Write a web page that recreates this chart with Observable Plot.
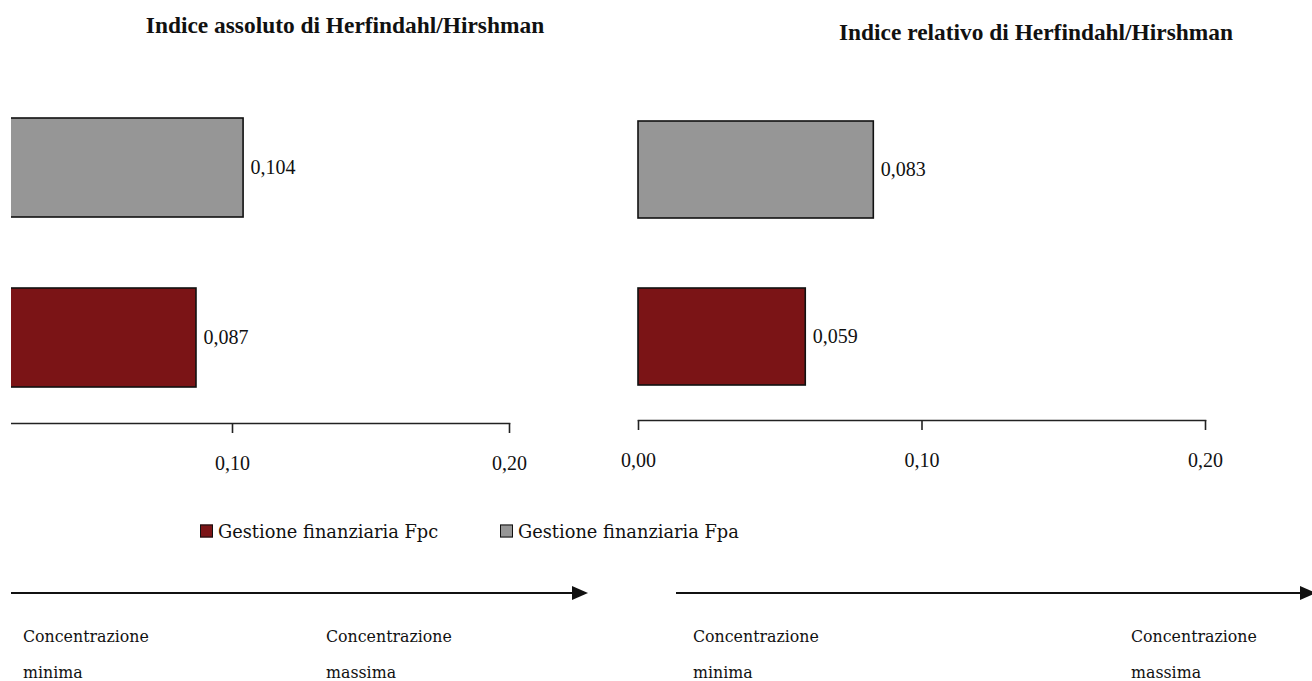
<!DOCTYPE html>
<html>
<head>
<meta charset="utf-8">
<script src="https://cdn.jsdelivr.net/npm/d3@7"></script>
<script src="https://cdn.jsdelivr.net/npm/@observablehq/plot@0.6"></script>
<style>
  html, body { margin: 0; padding: 0; background: #fff; }
  #page { position: relative; width: 1312px; height: 681px; overflow: hidden; background: #fff; color: #111; }
  .abs { position: absolute; white-space: nowrap; }
  .title { font-family: "Liberation Serif", serif; font-weight: bold; font-size: 23.4px; transform: translate(-50%, -50%); }
  .leg { font-family: "DejaVu Serif", serif; font-size: 17.8px; transform: translateY(-50%); }
  .note { font-family: "DejaVu Serif", serif; font-size: 15.8px; transform: translateY(-50%); }
  .sw { position: absolute; width: 11px; height: 11px; border: 1px solid #111; transform: translateY(-50%); }
</style>
</head>
<body>
<div id="page"></div>
<script>
// ---- data ----
const seriesKeys = ["Fpa", "Fpc"];                       // top to bottom
const seriesNames = ["Gestione finanziaria Fpa", "Gestione finanziaria Fpc"];
const seriesColors = ["#969696", "#7b1416"];
const absoluteIndex = [0.104, 0.087];                    // Indice assoluto
const relativeIndex = [0.083, 0.059];                    // Indice relativo
const tickValues = [0, 0.1, 0.2];
const titles = ["Indice assoluto di Herfindahl/Hirshman", "Indice relativo di Herfindahl/Hirshman"];
const legendOrder = ["Fpc", "Fpa"];
const scaleLabels = [["Concentrazione", "minima"], ["Concentrazione", "massima"]];

const page = document.getElementById("page");
const fmt3 = v => v.toFixed(3).replace(".", ",");
const fmt2 = v => v.toFixed(2).replace(".", ",");

function panel(values, o) {
  const rows = seriesKeys.map((k, i) => ({key: k, value: values[i]}));
  const svg = Plot.plot({
    width: o.width, height: o.height,
    marginLeft: o.ml, marginRight: o.width - o.xEnd, marginTop: o.mt, marginBottom: o.mb,
    style: {background: "transparent", overflow: "visible"},
    x: {domain: [0, 0.2], axis: null},
    y: {domain: seriesKeys, paddingInner: 0.42, paddingOuter: 0.21, axis: null},
    color: {domain: seriesKeys, range: seriesColors},
    marks: [
      Plot.barX(rows, {y: "key", x1: 0, x2: "value", fill: "key", stroke: "#111", strokeWidth: 1.6}),
      Plot.text(rows, {y: "key", x: "value", text: d => fmt3(d.value), dx: 7, textAnchor: "start",
        fontSize: 20, fontFamily: "Liberation Serif", fill: "#111"}),
      Plot.frame({anchor: "bottom", stroke: "#222", strokeWidth: 1.6}),
      Plot.axisX({anchor: "bottom", ticks: o.ticks, tickFormat: fmt2, tickSize: 10, tickPadding: 22,
        fontSize: 20, fontFamily: "Liberation Serif", stroke: "#222", strokeWidth: 1.6, fill: "#111", label: null})
    ]
  });
  svg.style.maxWidth = "none";
  return svg;
}

// left panel (cropped at the left edge in the reference: 0,00 lies off-page)
const wrapL = document.createElement("div");
Object.assign(wrapL.style, {position: "absolute", left: "11px", top: "60px", width: "620px", height: "430px", overflow: "hidden"});
const svgL = panel(absoluteIndex, {width: 676, height: 423, ml: 0, xEnd: 554, mt: 22, mb: 60, ticks: tickValues.filter(t => t > 0)});
Object.assign(svgL.style, {position: "absolute", left: "-56px", top: "0px"});
wrapL.appendChild(svgL);
page.appendChild(wrapL);

// right panel
const svgR = panel(relativeIndex, {width: 685, height: 420, ml: 38, xEnd: 605, mt: 25, mb: 60, ticks: tickValues});
Object.assign(svgR.style, {position: "absolute", left: "600px", top: "60px"});
page.appendChild(svgR);

// titles
[[titles[0], 345, 25], [titles[1], 1036, 32]].forEach(([t, x, y]) => {
  const d = document.createElement("div");
  d.className = "abs title"; d.textContent = t;
  d.style.left = x + "px"; d.style.top = y + "px";
  page.appendChild(d);
});

// legend
const legPos = {Fpc: 200, Fpa: 500};
legendOrder.forEach(k => {
  const i = seriesKeys.indexOf(k);
  const sw = document.createElement("div");
  sw.className = "sw"; sw.style.left = legPos[k] + "px"; sw.style.top = "531px"; sw.style.background = seriesColors[i];
  page.appendChild(sw);
  const t = document.createElement("div");
  t.className = "abs leg"; t.textContent = seriesNames[i];
  t.style.left = (legPos[k] + 18) + "px"; t.style.top = "531px";
  page.appendChild(t);
});

// arrows
const ns = "http://www.w3.org/2000/svg";
const arr = document.createElementNS(ns, "svg");
arr.setAttribute("width", 1312); arr.setAttribute("height", 681);
arr.style.position = "absolute"; arr.style.left = "0"; arr.style.top = "0";
[[11, 574, 588], [676, 1300, 1316]].forEach(([x0, x1, tip]) => {
  const l = document.createElementNS(ns, "line");
  l.setAttribute("x1", x0); l.setAttribute("x2", x1); l.setAttribute("y1", 593); l.setAttribute("y2", 593);
  l.setAttribute("stroke", "#111"); l.setAttribute("stroke-width", 2);
  arr.appendChild(l);
  const p = document.createElementNS(ns, "path");
  p.setAttribute("d", `M${tip},593 L${tip - 16},586 L${tip - 16},600 Z`);
  p.setAttribute("fill", "#111");
  arr.appendChild(p);
});
page.appendChild(arr);

// scale annotations
[[23, 0], [326, 1], [693, 0], [1131, 1]].forEach(([x, j]) => {
  scaleLabels[j].forEach((txt, r) => {
    const d = document.createElement("div");
    d.className = "abs note"; d.textContent = txt;
    d.style.left = x + "px"; d.style.top = (r === 0 ? 636 : 672) + "px";
    page.appendChild(d);
  });
});
</script>
</body>
</html>
